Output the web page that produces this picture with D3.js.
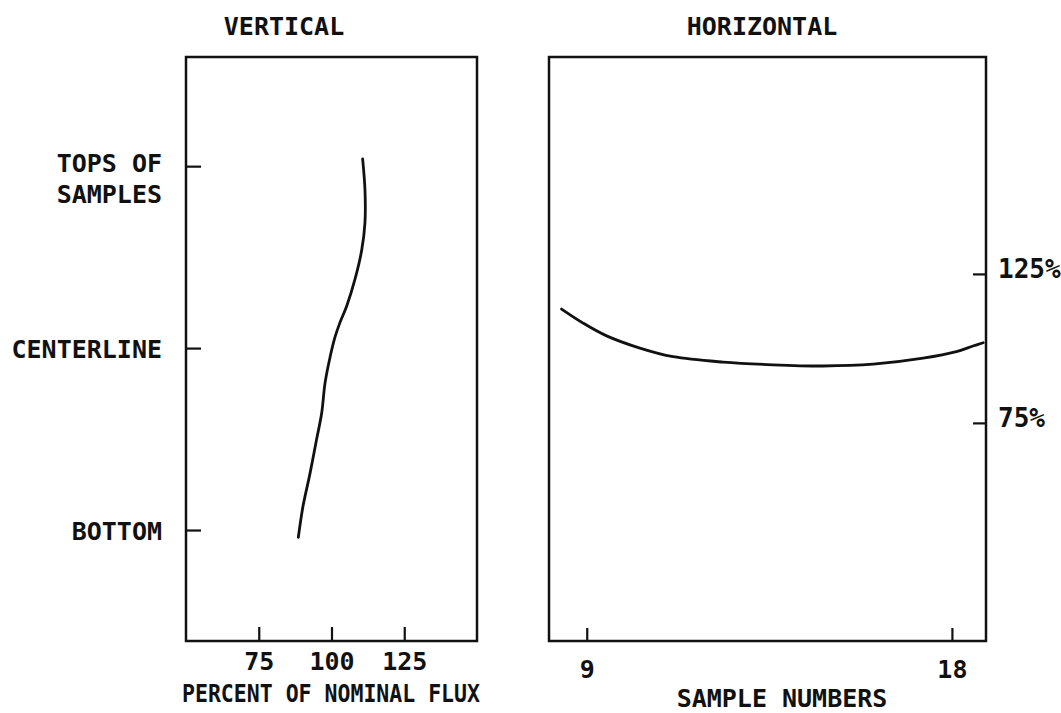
<html>

<head>
    <style>
        body { margin: 0; background: white; }
        text {
            font-family: "DejaVu Sans Mono", monospace;
            font-weight: bold;
            fill: #111;
        }
        .frame { fill: none; stroke: #111; stroke-width: 2.5 }
        .curve { fill: none; stroke: #111; stroke-width: 2.8; stroke-linecap: round }
        .tick line { stroke: #111; stroke-width: 2.2 }
    </style>
</head>

<body>
    <svg id="container" height="713" width="1061"></svg>
</body>
<script src="https://cdn.jsdelivr.net/npm/d3@7"></script>
<script>
    // vertical profile: height position (0 = bottom, 1 = centerline, 2 = tops) vs percent of nominal flux
    let vertPos = [2.04, 1.87, 1.69, 1.54, 1.38, 1.23, 1.14, 1.06, 0.95, 0.81, 0.64, 0.50, 0.31, 0.13, -0.04]
    let vertFlux = [110.7, 111.5, 111.5, 110.4, 108.1, 105.2, 102.9, 101.2, 99.5, 97.8, 96.6, 94.9, 92.6, 90.2, 88.6]
    let vertCats = [0, 1, 2]
    let vertLabels = [["BOTTOM"], ["CENTERLINE"], ["TOPS OF", "SAMPLES"]]
    let fluxTicks = [75, 100, 125]

    // horizontal profile: sample number vs percent
    let horSample = [8.38, 8.91, 9.49, 10.31, 11.13, 12.36, 13.59, 14.83, 16.06, 17.29, 18.11, 18.52, 18.77]
    let horFlux = [113.2, 108.5, 104.2, 100.1, 97.2, 95.4, 94.5, 94.1, 94.7, 96.7, 98.9, 100.8, 101.9]
    let sampleTicks = [9, 18]
    let pctTicks = [75, 125]

    let svg = d3.select("#container")

    // ---- left panel ----
    let L = { x0: 186, x1: 477, y0: 57, y1: 641 }
    let xFlux = d3.scaleLinear().domain([50, 150]).range([L.x0, L.x1])
    let yPos = d3.scaleLinear().domain([-0.61, 2.6]).range([L.y1, L.y0])

    svg.append("rect").attr("class", "frame")
        .attr("x", L.x0).attr("y", L.y0)
        .attr("width", L.x1 - L.x0).attr("height", L.y1 - L.y0)

    let lx = svg.append("g")
        .attr("transform", `translate(0,${L.y1})`)
        .call(d3.axisBottom(xFlux).tickValues(fluxTicks).tickSizeInner(-14).tickSizeOuter(0).tickPadding(11))
    lx.select(".domain").remove()
    lx.selectAll("text").attr("font-size", 25).style("font-family", null)

    let ly = svg.append("g")
        .attr("transform", `translate(${L.x0},0)`)
        .call(d3.axisLeft(yPos).tickValues(vertCats).tickSizeInner(-15).tickSizeOuter(0).tickFormat(""))
    ly.select(".domain").remove()

    svg.selectAll(".vlab").data(vertCats).enter()
        .append("text")
        .attr("class", "vlab")
        .attr("text-anchor", "end")
        .attr("font-size", 25)
        .attr("x", 162)
        .attr("y", d => yPos(d) + (vertLabels[d].length > 1 ? 6 : 10))
        .selectAll("tspan").data(d => vertLabels[d]).enter()
        .append("tspan")
        .attr("x", 162)
        .attr("dy", (d, i) => i === 0 ? 0 : 31)
        .text(d => d)

    let vLine = d3.line()
        .x((d, i) => xFlux(vertFlux[i]))
        .y(d => yPos(d))
        .curve(d3.curveCatmullRom)
    svg.append("path").attr("class", "curve").attr("d", vLine(vertPos))

    svg.append("text").attr("x", 284).attr("y", 35).attr("text-anchor", "middle")
        .attr("font-size", 25).text("VERTICAL")
    svg.append("text").attr("x", 331).attr("y", 702).attr("text-anchor", "middle")
        .attr("font-size", 25).attr("textLength", 298).attr("lengthAdjust", "spacingAndGlyphs")
        .text("PERCENT OF NOMINAL FLUX")

    // ---- right panel ----
    let R = { x0: 549, x1: 986, y0: 57, y1: 641 }
    let xSample = d3.scaleLinear().domain([8.07, 18.84]).range([R.x0, R.x1])
    let yPct = d3.scaleLinear().domain([1.8, 197.8]).range([R.y1, R.y0])

    svg.append("rect").attr("class", "frame")
        .attr("x", R.x0).attr("y", R.y0)
        .attr("width", R.x1 - R.x0).attr("height", R.y1 - R.y0)

    let rx = svg.append("g")
        .attr("transform", `translate(0,${R.y1})`)
        .call(d3.axisBottom(xSample).tickValues(sampleTicks).tickSizeInner(-13).tickSizeOuter(0).tickPadding(19))
    rx.select(".domain").remove()
    rx.selectAll("text").attr("font-size", 25).style("font-family", null)

    let ry = svg.append("g")
        .attr("transform", `translate(${R.x1},0)`)
        .call(d3.axisRight(yPct).tickValues(pctTicks).tickSizeInner(-13).tickSizeOuter(0).tickPadding(12)
            .tickFormat(d => d + "%"))
    ry.select(".domain").remove()
    ry.selectAll("text").attr("font-size", 26).attr("dy", "0.12em").style("font-family", null)

    let hLine = d3.line()
        .x(d => xSample(d))
        .y((d, i) => yPct(horFlux[i]))
        .curve(d3.curveCatmullRom)
    svg.append("path").attr("class", "curve").attr("d", hLine(horSample))

    svg.append("text").attr("x", 762).attr("y", 35).attr("text-anchor", "middle")
        .attr("font-size", 25).text("HORIZONTAL")
    svg.append("text").attr("x", 782).attr("y", 707).attr("text-anchor", "middle")
        .attr("font-size", 25).text("SAMPLE NUMBERS")
</script>

</html>
